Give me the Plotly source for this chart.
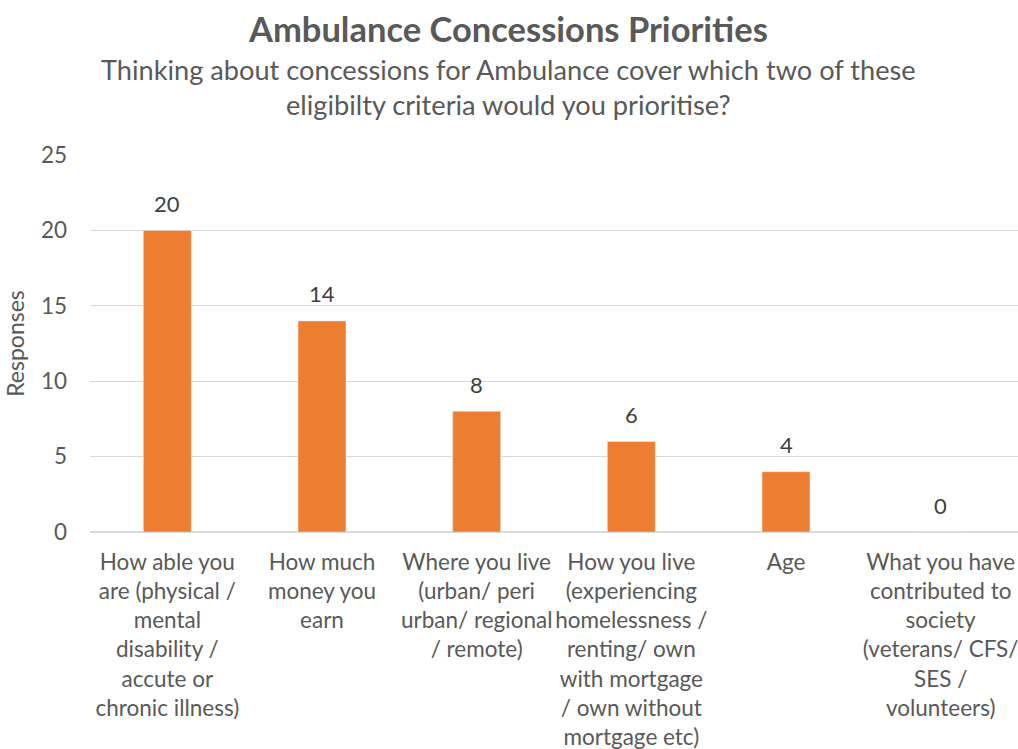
import plotly.graph_objects as go

categories = [
    "How able you<br>are (physical /<br>mental<br>disability /<br>accute or<br>chronic illness)",
    "How much<br>money you<br>earn",
    "Where you live<br>(urban/ peri<br>urban/ regional<br>/ remote)",
    "How you live<br>(experiencing<br>homelessness /<br>renting/ own<br>with mortgage<br>/ own without<br>mortgage etc)",
    "Age",
    "What you have<br>contributed to<br>society<br>(veterans/ CFS/<br>SES /<br>volunteers)",
]
responses = [20, 14, 8, 6, 4, 0]
y_ticks = [0, 5, 10, 15, 20, 25]

FONT = "Lato, Open Sans, sans-serif"
GREY = "#595959"

fig = go.Figure(go.Bar(
    x=categories, y=responses,
    marker_color="#ED7D31",
    width=0.31,
    hoverinfo="x+y",
))

# data labels placed through the axes, offset above each bar
for c, v in zip(categories, responses):
    fig.add_annotation(x=c, y=v, xref="x", yref="y", text=str(v), showarrow=False,
                       yanchor="middle", yshift=27,
                       font=dict(size=22, color="#404040", family=FONT))

fig.update_layout(
    width=1018, height=749,
    margin=dict(l=90, r=0, t=155, b=217),
    paper_bgcolor="white", plot_bgcolor="white",
    font=dict(family=FONT, color=GREY, size=22),
    showlegend=False,
    xaxis=dict(showgrid=False, showline=False, ticks="", tickangle=0,
               ticklabelstandoff=14,
               tickfont=dict(size=22.5, color=GREY)),
    yaxis=dict(range=[0, 25], tickvals=y_ticks, showgrid=True, gridcolor="#D9D9D9",
               gridwidth=1, zeroline=True, zerolinecolor="#D9D9D9", showline=False,
               ticks="", ticklabelstandoff=22,
               tickfont=dict(size=22.5, color=GREY),
               title=dict(text="Responses", font=dict(size=23, color=GREY), standoff=9)),
)

H_plot = 749 - 155 - 217
W_plot = 1018 - 90
def py(pix):
    return (749 - 217 - pix) / H_plot
def px(pix):
    return (pix - 90) / W_plot

fig.add_annotation(text="<b>Ambulance Concessions Priorities</b>", x=px(508), y=py(28),
                   xref="paper", yref="paper", showarrow=False, xanchor="center", yanchor="middle",
                   font=dict(size=34.5, color=GREY, family=FONT))
fig.add_annotation(text="Thinking about concessions for Ambulance cover which two of these<br>eligibilty criteria would you prioritise?",
                   x=px(508), y=py(86.5), xref="paper", yref="paper", showarrow=False,
                   xanchor="center", yanchor="middle", align="center",
                   font=dict(size=27.2, color=GREY, family=FONT))

fig.write_html("out.html")
